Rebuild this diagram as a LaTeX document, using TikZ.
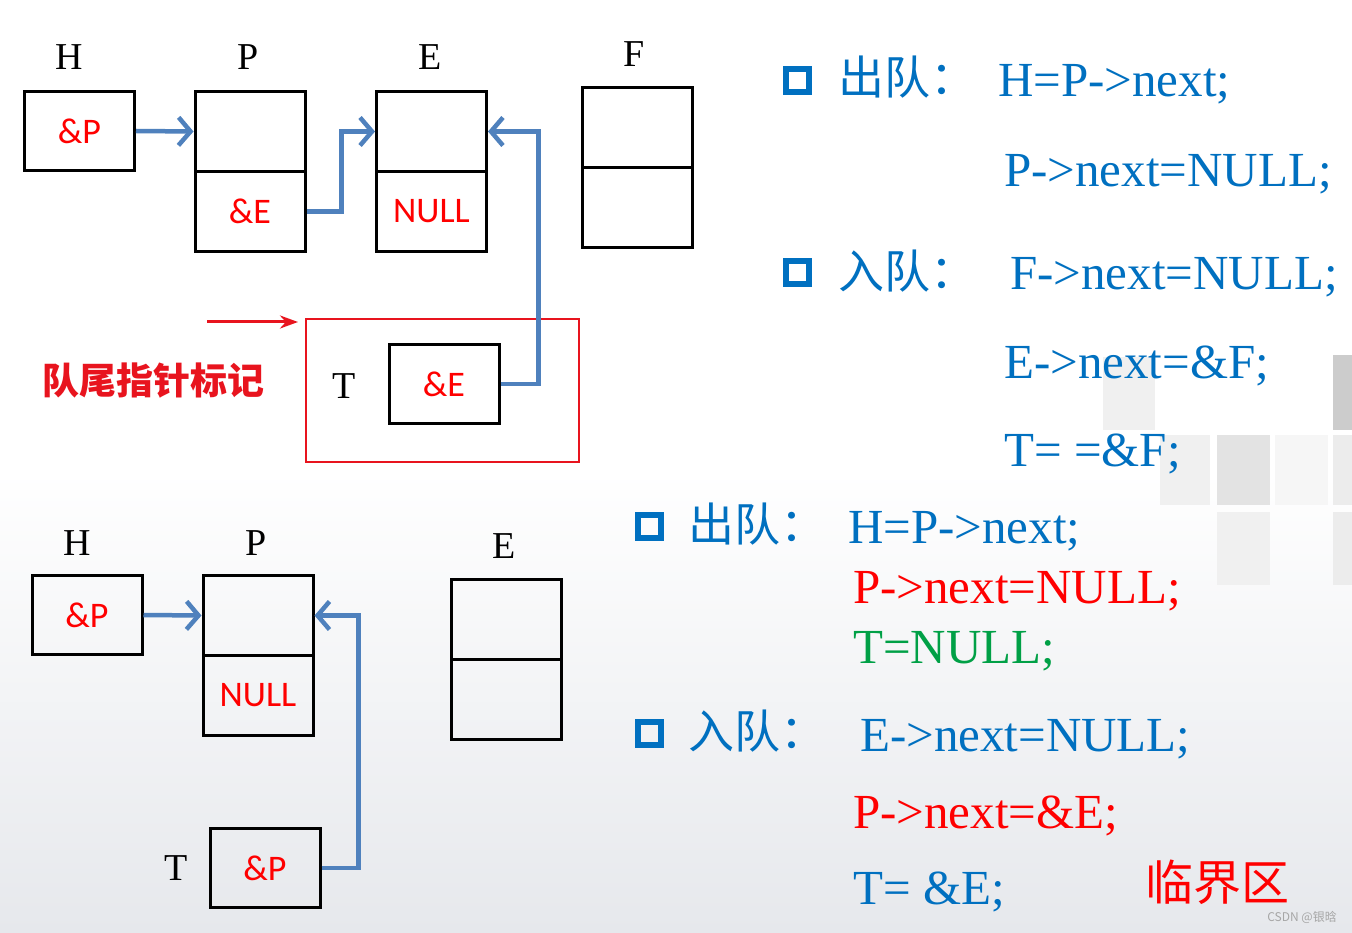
\documentclass[tikz,border=0pt]{standalone}
\usepackage{fontspec}
\setmainfont{Liberation Serif}
\newfontfamily\calfont{Carlito}
\newfontfamily\cjk{Noto Sans CJK SC}
\usetikzlibrary{arrows.meta}
\definecolor{codeblue}{RGB}{0,112,192}
\definecolor{arrowblue}{RGB}{79,129,189}
\definecolor{myred}{RGB}{255,0,0}
\definecolor{markred}{RGB}{232,20,30}
\definecolor{mygreen}{RGB}{0,160,70}
\definecolor{bgbottom}{RGB}{230,232,236}
\tikzset{
  cell/.style={draw=black, line width=3pt, minimum width=110pt, minimum height=80pt, inner sep=0pt, font=\calfont\fontsize{36}{36}\selectfont, text=myred},
  lbl/.style={anchor=base, font=\fontsize{38}{38}\selectfont, text=black, inner sep=0pt},
  code/.style={anchor=base west, font=\fontsize{49}{49}\selectfont, inner sep=0pt},
  head/.style={anchor=base west, font=\cjk\fontsize{46}{46}\selectfont, text=codeblue, inner sep=0pt},
  bullet/.style={draw=codeblue, line width=6pt, minimum size=23pt, inner sep=0pt},
  link/.style={draw=arrowblue, line width=4.5pt, -{Straight Barb[length=12pt,width=28pt]}},
  deco/.style={draw=none}
}
\begin{document}
\begin{tikzpicture}[x=1pt, y=-1pt]
\useasboundingbox (0,0) rectangle (1352,933);
\fill[white] (0,0) rectangle (1352,933);
\shade[top color=white, bottom color=bgbottom, deco] (0,470) rectangle (1352,933);
% background squares
\fill[gray!12] (1103,357) rectangle (1155,430);
\fill[gray!40] (1333,355) rectangle (1352,430);
\fill[gray!12] (1160,435) rectangle (1210,505);
\fill[gray!22] (1217,435) rectangle (1270,505);
\fill[gray!7] (1275,435) rectangle (1328,505);
\fill[gray!15] (1333,435) rectangle (1352,505);
\fill[gray!12] (1217,512) rectangle (1270,585);
\fill[gray!15] (1333,512) rectangle (1352,585);

% ---------- top diagram ----------
\node[lbl] (lH) at (69,70) {H};
\node[lbl] (lP) at (248,70) {P};
\node[lbl] (lE) at (430,70) {E};
\node[lbl] (lF) at (634,67) {F};
\node[cell, fill=white, minimum height=79pt] (H) at (79.5,131) {\&P};
\node[cell, fill=white] (Pt) at (250,131.5) {};
\node[cell] (Pb) at (250,211.5) {\&E};
\node[cell, fill=white] (Et) at (431.5,131.5) {};
\node[cell] (Eb) at (431.5,211.5) {NULL};
\node[cell, fill=white] (Ft) at (637.5,127.5) {};
\node[cell] (Fb) at (637.5,207.5) {};
\node[draw=markred, line width=1.5pt, minimum width=273pt, minimum height=143pt, inner sep=0pt] (mark) at (442.5,390.5) {};
\node[lbl] (lT) at (344,398) {T};
\node[cell, fill=white, minimum height=79pt] (T) at (444,384) {\&E};
\draw[link] (H.east) -- (Pt.west);
\draw[link] (Pb.east) -- ++(35,0) |- (Et.west);
\draw[link] (T.east) -- ++(38,0) |- (Et.east);
\coordinate (ra) at (207,322);
\coordinate (rb) at (298,322);
\draw[markred, line width=3pt, -{Stealth[length=18pt,width=13pt]}] (ra) -- (rb);
\node[anchor=base west, inner sep=0pt, text=markred, font=\cjk\bfseries\fontsize{37}{37}\selectfont] (tag) at (42,394) {队尾指针标记};

% ---------- bottom diagram ----------
\node[lbl] (lH2) at (77,555) {H};
\node[lbl] (lP2) at (256,555) {P};
\node[lbl] (lE2) at (504,558) {E};
\node[cell, minimum height=79pt] (H2) at (87,615) {\&P};
\node[cell] (P2t) at (258,615.5) {};
\node[cell] (P2b) at (258,695.5) {NULL};
\node[cell] (E2t) at (506,619.5) {};
\node[cell] (E2b) at (506,699.5) {};
\node[lbl] (lT2) at (176,880) {T};
\node[cell, minimum height=79pt] (T2) at (265,868) {\&P};
\draw[link] (H2.east) -- (P2t.west);
\draw[link] (T2.east) -- ++(37,0) |- (P2t.east);

% ---------- top code ----------
\node[bullet] (b1) at (797.5,80.5) {};
\node[head] (h1) at (838,95) {出队：};
\node[code, text=codeblue] (c1) at (998,97) {H=P->next;};
\node[code, text=codeblue] (c2) at (1004,187) {P->next=NULL;};
\node[bullet] (b2) at (797.5,272.5) {};
\node[head] (h2) at (838,289) {入队：};
\node[code, text=codeblue] (c3) at (1010,290) {F->next=NULL;};
\node[code, text=codeblue] (c4) at (1004,378) {E->next=\&F;};
\node[code, text=codeblue] (c5) at (1004,466) {T= =\&F;};

% ---------- bottom code ----------
\node[bullet] (b3) at (649,526) {};
\node[head] (h3) at (688,541) {出队：};
\node[code, text=codeblue] (d1) at (848,543) {H=P->next;};
\node[code, text=myred] (d2) at (853,603) {P->next=NULL;};
\node[code, text=mygreen] (d3) at (853,663) {T=NULL;};
\node[bullet] (b4) at (649,733) {};
\node[head] (h4) at (688,748) {入队：};
\node[code, text=codeblue] (d4) at (860,751) {E->next=NULL;};
\node[code, text=myred] (d5) at (853,828) {P->next=\&E;};
\node[code, text=codeblue] (d6) at (853,904) {T= \&E;};
\node[anchor=base west, inner sep=0pt, text=myred, font=\cjk\fontsize{48}{48}\selectfont] (crit) at (1145,900) {临界区};
\node[anchor=base east, inner sep=0pt, text=gray!70, font=\cjk\fontsize{12}{12}\selectfont] (wm) at (1337,921) {CSDN @银晗};
\end{tikzpicture}
\end{document}
